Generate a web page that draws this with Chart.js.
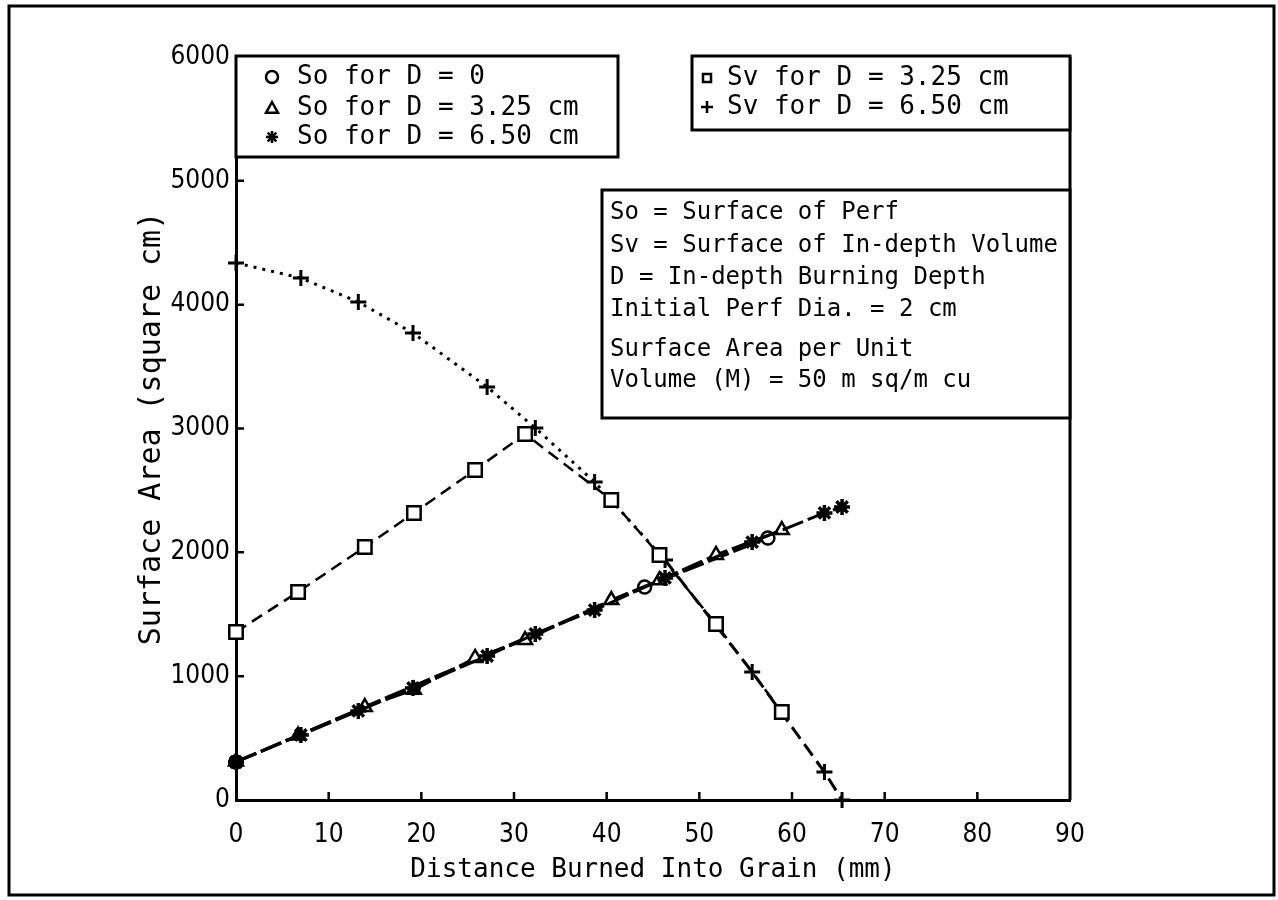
<!DOCTYPE html>
<html>
<head>
<meta charset="utf-8">
<script src="https://cdn.jsdelivr.net/npm/chart.js@4.4.1/dist/chart.umd.min.js"></script>
<style>
  html, body { margin: 0; padding: 0; background: #fff; }
  #wrap { width: 1278px; height: 900px; }
</style>
</head>
<body>
<div id="wrap"><canvas id="chart" width="1278" height="900"></canvas></div>
<script>
// values: x = distance burned (mm), y = surface area (sq cm)
const svD325X = [0, 6.7, 13.9, 19.2, 25.8, 31.2, 40.5, 45.7, 51.8, 58.9];
const svD325Y = [1357, 1680, 2043, 2318, 2665, 2956, 2423, 1979, 1421, 711];
const svD650X = [0, 7.0, 13.2, 19.1, 27.1, 32.3, 38.7, 46.3, 55.7, 63.5, 65.4];
const svD650Y = [4337, 4215, 4022, 3771, 3335, 3004, 2568, 1938, 1034, 226, 0];
const soD650X = [0, 7.0, 13.2, 19.1, 27.1, 32.3, 38.7, 46.3, 55.7, 63.5, 65.4];
const soD650Y = [307, 525, 719, 905, 1163, 1341, 1534, 1793, 2083, 2318, 2366];
const soD325X = [0, 6.7, 13.9, 19.2, 25.8, 31.2, 40.5, 45.7, 51.8, 58.9];
const soD325Y = [310, 520, 751, 890, 1147, 1292, 1615, 1775, 1979, 2180];
const soD0X = [0, 44.1, 57.4];
const soD0Y = [307, 1720, 2116];

const xTickValues = [0, 10, 20, 30, 40, 50, 60, 70, 80, 90];
const yTickValues = [0, 1000, 2000, 3000, 4000, 5000, 6000];

const legendSo = ["So for D = 0", "So for D = 3.25 cm", "So for D = 6.50 cm"];
const legendSv = ["Sv for D = 3.25 cm", "Sv for D = 6.50 cm"];
const noteLines = [
  "So = Surface of Perf",
  "Sv = Surface of In-depth Volume",
  "D = In-depth Burning Depth",
  "Initial Perf Dia. = 2 cm",
  "Surface Area per Unit",
  "Volume (M) = 50 m sq/m cu",
];

const MONO = "'DejaVu Sans Mono', 'Liberation Mono', monospace";
const NARROW = "'Liberation Sans Narrow', 'DejaVu Sans Condensed', 'Roboto Condensed', sans-serif";

const pts = (xs, ys) => xs.map((x, i) => ({ x, y: ys[i] }));

function series(label, xs, ys, style, radius, markW, dash, width, order) {
  return {
    label,
    data: pts(xs, ys),
    showLine: true,
    clip: false,
    borderColor: "#000",
    borderWidth: width,
    borderDash: dash,
    pointStyle: style,
    pointRadius: radius,
    pointBorderWidth: markW,
    pointBorderColor: "#000",
    pointBackgroundColor: "#fff",
    tension: 0,
    order,
  };
}

function drawMark(ctx, style, x, y, r) {
  ctx.beginPath();
  if (style === "circle") {
    ctx.arc(x, y, r, 0, Math.PI * 2);
  } else if (style === "rect") {
    ctx.rect(x - r, y - r, 2 * r, 2 * r);
  } else if (style === "triangle") {
    ctx.moveTo(x, y - r);
    ctx.lineTo(x + r, y + r * 0.8);
    ctx.lineTo(x - r, y + r * 0.8);
    ctx.closePath();
  } else {
    ctx.moveTo(x - r, y); ctx.lineTo(x + r, y);
    ctx.moveTo(x, y - r); ctx.lineTo(x, y + r);
    if (style === "star") {
      const d = r * 0.72;
      ctx.moveTo(x - d, y - d); ctx.lineTo(x + d, y + d);
      ctx.moveTo(x - d, y + d); ctx.lineTo(x + d, y - d);
    }
  }
  ctx.stroke();
}

function textBox(ctx, box, lines, ys, textX, font, marks, markX, markR) {
  ctx.save();
  ctx.fillStyle = "#fff";
  ctx.fillRect(box[0], box[1], box[2] - box[0], box[3] - box[1]);
  ctx.strokeStyle = "#000";
  ctx.lineWidth = 3;
  ctx.strokeRect(box[0], box[1], box[2] - box[0], box[3] - box[1]);
  ctx.fillStyle = "#000";
  ctx.font = font;
  ctx.textBaseline = "middle";
  ctx.textAlign = "left";
  lines.forEach((t, i) => {
    ctx.fillText(t, textX, ys[i]);
    if (marks) {
      ctx.lineWidth = 2.5;
      drawMark(ctx, marks[i], markX, ys[i], markR[i]);
    }
  });
  ctx.restore();
}

const framePlugin = {
  id: "frame",
  afterDraw(chart) {
    const ctx = chart.ctx;
    const { left, right, top, bottom } = chart.chartArea;
    const xs = chart.scales.x, ys = chart.scales.y;
    ctx.save();
    ctx.strokeStyle = "#000";
    ctx.lineWidth = 3;
    // outer frame
    ctx.strokeRect(9, 6, 1265, 889);
    // right edge of plot
    ctx.beginPath();
    ctx.moveTo(right, top);
    ctx.lineTo(right, bottom);
    ctx.stroke();
    // inward ticks
    ctx.lineWidth = 2.5;
    ctx.beginPath();
    xTickValues.slice(1, -1).forEach(v => {
      const px = xs.getPixelForValue(v);
      ctx.moveTo(px, bottom);
      ctx.lineTo(px, bottom - 8);
    });
    yTickValues.slice(1, -1).forEach(v => {
      const py = ys.getPixelForValue(v);
      ctx.moveTo(left, py);
      ctx.lineTo(left + 8, py);
    });
    ctx.stroke();
    ctx.restore();

    textBox(ctx, [left, 56, 618, 157], legendSo, [77, 108, 137], 297,
      "26px " + MONO, ["circle", "triangle", "star"], 272, [6, 6, 6]);
    textBox(ctx, [692, 56, right, 130], legendSv, [78, 107], 727,
      "26px " + MONO, ["rect", "cross"], 707, [4, 6]);
    textBox(ctx, [602, 190, right, 418], noteLines, [213, 246, 278, 310, 350, 381], 610,
      "24px " + MONO, null, 0, null);
  },
};

const svPlus = series("Sv for D = 6.50 cm", svD650X, svD650Y, "cross", 8, 3, [3, 6], 3, 4);
// past the last shared square the two Sv curves merge into one dashed line
svPlus.segment = { borderDash: c => (c.p0.parsed.x >= 46 ? [14, 7] : undefined) };

new Chart(document.getElementById("chart"), {
  type: "scatter",
  data: {
    datasets: [
      series("So for D = 6.50 cm", soD650X, soD650Y, "star", 8, 3.5, [22, 5], 3, 0),
      series("So for D = 3.25 cm", soD325X, soD325Y, "triangle", 8, 2.5, [22, 5], 3, 1),
      series("So for D = 0", soD0X, soD0Y, "circle", 6.5, 2.5, [22, 5], 3, 2),
      series("Sv for D = 3.25 cm", svD325X, svD325Y, "rect", 9.5, 2.5, [12, 7], 2.5, 3),
      svPlus,
    ],
  },
  options: {
    responsive: false,
    animation: false,
    events: [],
    layout: { padding: { left: 0, top: 57, right: 208, bottom: 0 } },
    plugins: { legend: { display: false }, tooltip: { enabled: false } },
    scales: {
      x: {
        type: "linear",
        min: 0, max: 90,
        afterBuildTicks: s => { s.ticks = xTickValues.map(v => ({ value: v })); },
        afterFit: s => { s.height = 100; },
        grid: { display: false, drawTicks: false },
        border: { display: true, color: "#000", width: 3 },
        ticks: {
          color: "#000", padding: 20, autoSkip: false, maxRotation: 0,
          font: { family: NARROW, size: 26 },
          callback: v => String(v),
        },
        title: {
          display: true, text: "Distance Burned Into Grain (mm)", color: "#000",
          font: { family: MONO, size: 26 }, padding: { top: 0, bottom: 14 },
        },
      },
      y: {
        type: "linear",
        min: 0, max: 6000,
        afterBuildTicks: s => { s.ticks = yTickValues.map(v => ({ value: v })); },
        afterFit: s => { s.width = 236; },
        grid: { display: false, drawTicks: false },
        border: { display: true, color: "#000", width: 3 },
        ticks: {
          color: "#000", padding: 6, autoSkip: false,
          font: { family: NARROW, size: 26 },
          callback: v => String(v),
        },
        title: {
          display: true, text: "Surface Area (square cm)", color: "#000",
          font: { family: MONO, size: 30 }, padding: { top: 134, bottom: 0 },
        },
      },
    },
  },
  plugins: [framePlugin],
});
</script>
</body>
</html>
